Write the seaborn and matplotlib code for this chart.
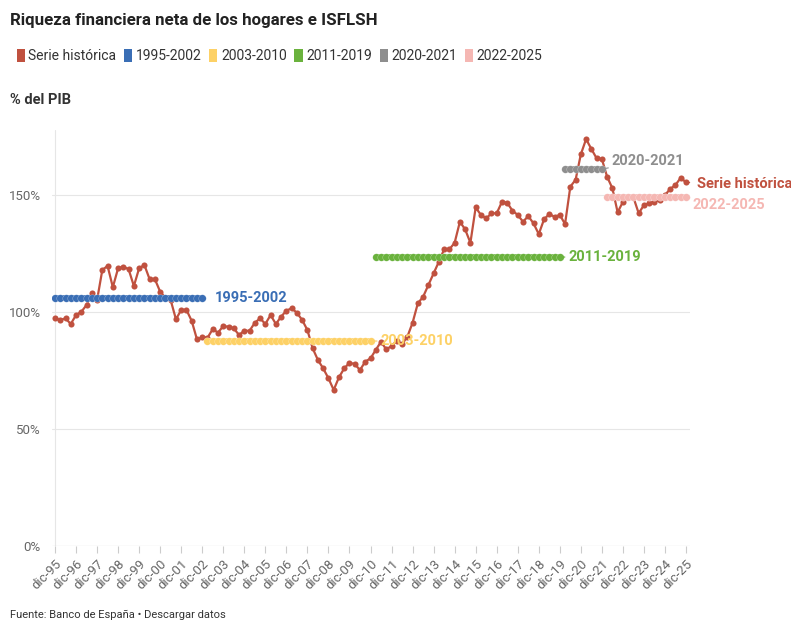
import matplotlib
matplotlib.use('Agg')
import matplotlib.pyplot as plt
import seaborn as sns
import pandas as pd
import numpy as np
from matplotlib.patches import Patch

# Riqueza financiera neta de los hogares e ISFLSH (% del PIB), trimestral dic-95 .. dic-25
serie = [
    97.3, 96.6, 97.3, 94.9, 98.7, 100.1, 103.0, 108.0, 105.1, 118.0,
    119.7, 110.6, 118.7, 119.4, 118.3, 111.1, 118.7, 120.1, 114.0, 114.0,
    108.7, 106.0, 105.1, 96.9, 100.9, 100.9, 96.2, 88.3, 89.2, 89.0,
    92.7, 91.2, 94.0, 93.7, 93.0, 90.2, 92.0, 92.0, 95.4, 97.3,
    94.9, 98.7, 94.9, 98.0, 100.6, 101.6, 99.7, 96.6, 92.3, 84.5,
    79.5, 75.9, 71.7, 66.7, 72.1, 75.9, 78.3, 77.8, 75.2, 78.8,
    80.2, 83.8, 87.3, 84.0, 85.5, 87.7, 86.3, 89.4, 95.4, 103.7,
    106.5, 111.5, 116.5, 121.5, 126.8, 126.8, 129.6, 138.6, 135.3, 129.6,
    144.7, 141.5, 140.0, 142.2, 142.2, 147.1, 146.7, 143.3, 141.5, 138.6,
    141.0, 137.9, 133.3, 139.6, 141.9, 140.7, 141.5, 137.6, 153.6, 156.5,
    167.4, 173.9, 169.7, 165.7, 165.4, 157.8, 152.9, 142.6, 147.1, 149.0,
    149.0, 142.2, 145.7, 146.4, 147.1, 147.9, 150.0, 152.6, 154.3, 157.4,
    155.4,
]
periodos = ['1995-2002', '2003-2010', '2011-2019', '2020-2021', '2022-2025']
medias = [106.0, 87.6, 123.5, 161.1, 149.1]

color_serie = '#c0513f'
colores = ['#3a6eb5', '#fdd166', '#6ab23d', '#8e8e8e', '#f5b7b3']

trimestres = pd.period_range('1995Q4', '2025Q4', freq='Q')
df = pd.DataFrame({'t': np.arange(len(serie)), 'valor': serie, 'anio': trimestres.year})

sns.set_theme(style='white')
plt.rcParams['font.family'] = ['Roboto', 'DejaVu Sans']

fig = plt.figure(figsize=(7.91, 6.21), dpi=100)
ax = fig.add_axes([52 / 791, 75 / 621, 638 / 791, 416 / 621])

# serie histórica
sns.lineplot(data=df, x='t', y='valor', color=color_serie, lw=1.6, marker='o',
             markersize=4.4, markeredgewidth=0, ax=ax, zorder=3)

# medias por periodo
label_offsets = [(9, 0), (7, 0), (6, 0), (7, 6), (5, -6)]
for nombre, media, col, off in zip(periodos, medias, colores, label_offsets):
    a, b = [int(v) for v in nombre.split('-')]
    sub = df[(df['anio'] >= a) & (df['anio'] <= b)]
    sns.lineplot(x=sub['t'], y=[media] * len(sub), color=col, lw=4.2, marker='o',
                 markersize=5.4, markeredgecolor='white', markeredgewidth=0.15,
                 ax=ax, zorder=4)
    ax.annotate(nombre, xy=(sub['t'].iloc[-1], media), xytext=off,
                textcoords='offset points', color=col, fontsize=10.5,
                fontweight='bold', va='center', ha='left',
                annotation_clip=False, zorder=6,
                arrowprops=dict(arrowstyle='-', color=col, lw=0.8,
                                shrinkA=5, shrinkB=1))

ax.annotate('Serie histórica', xy=(df['t'].iloc[-1], serie[-1]), xytext=(8, -1),
            textcoords='offset points', color=color_serie, fontsize=10.5,
            fontweight='bold', va='center', ha='left', annotation_clip=False,
            arrowprops=dict(arrowstyle='-', color=color_serie, lw=0.8,
                            shrinkA=3, shrinkB=1))

ax.set_xlim(-0.57, 120.76)
ax.set_ylim(0, 177.8)
ax.set_yticks([0, 50, 100, 150])
ax.set_yticklabels(['0%', '50%', '100%', '150%'])
ax.yaxis.grid(True, color='#e6e6e6', lw=0.8)
ax.axhline(0, color='#d0d0d0', lw=0.8, zorder=1)
ax.axvline(0, color='#e6e6e6', lw=0.8, zorder=0)

anios = sorted(set(df['anio']))
ax.set_xticks(np.arange(0, len(serie), 4))
ax.set_xticklabels([f'dic-{str(y)[2:]}' for y in anios], rotation=45,
                   ha='right', rotation_mode='anchor')
ax.tick_params(axis='x', length=5, width=0.8, color='#cccccc', labelsize=9.5,
               labelcolor='#666666', pad=3, bottom=True)
ax.tick_params(axis='y', length=0, pad=8, labelsize=9.5, labelcolor='#666666')
ax.set_xlabel('')
ax.set_ylabel('')
sns.despine(ax=ax, left=True, bottom=True)

# títulos y leyenda
fig.text(10 / 791, 1 - 21 / 621, 'Riqueza financiera neta de los hogares e ISFLSH',
         fontsize=12.2, fontweight='bold', color='#222222', va='center')
fig.text(10 / 791, 1 - 100 / 621, '% del PIB', fontsize=10.5, fontweight='bold',
         color='#333333', va='center')
handles = [Patch(facecolor=color_serie, edgecolor='none', label='Serie histórica')]
handles += [Patch(facecolor=c, edgecolor='none', label=p) for p, c in zip(periodos, colores)]
fig.legend(handles=handles, loc='center left', bbox_to_anchor=(4 / 791, 1 - 56 / 621),
           ncol=6, frameon=False, fontsize=10, handlelength=0.6, handleheight=1.1,
           handletextpad=0.25, columnspacing=0.55, labelcolor='#333333')
fig.text(10 / 791, 1 - 615 / 621, 'Fuente: Banco de España • Descargar datos',
         fontsize=8, color='#333333', va='center')

fig.savefig('out.png', dpi=100)
